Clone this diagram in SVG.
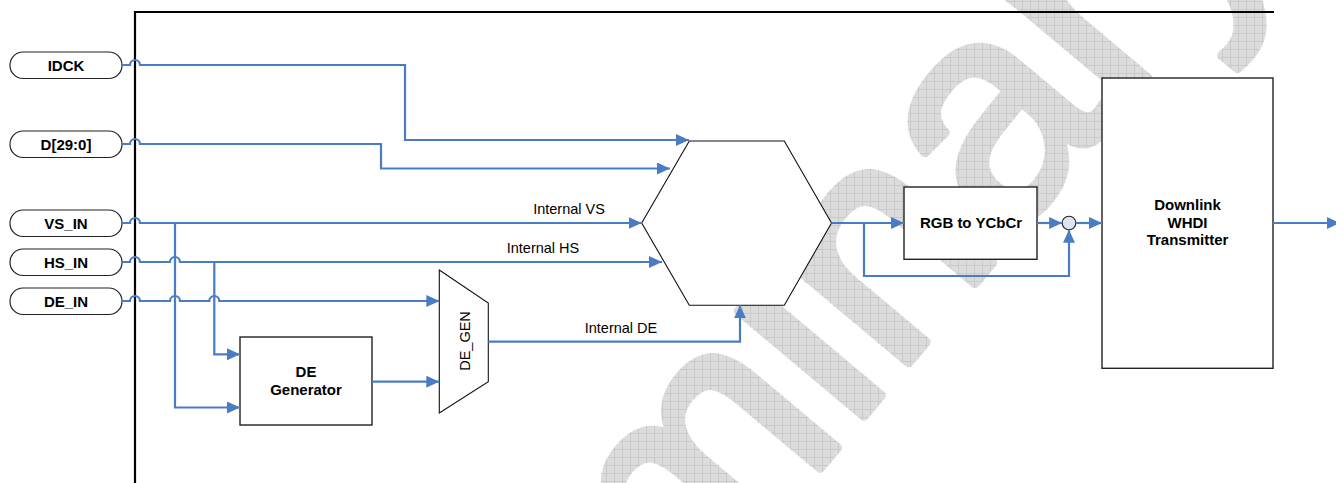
<svg xmlns="http://www.w3.org/2000/svg" width="1336" height="483" viewBox="0 0 1336 483">
<style>
.pill{fill:#fff;stroke:#222;stroke-width:1.2}
.box{fill:#fff;stroke:#222;stroke-width:1.4}
.hex{fill:#fff;stroke:#111;stroke-width:1.1}
.frame{fill:none;stroke:#000;stroke-width:2.2}
.wire{fill:none;stroke:#4a7cc4;stroke-width:2.2}
.arr{marker-end:url(#ah)}
.bl{font-family:"Liberation Sans",Arial,sans-serif;font-weight:bold;font-size:15px;fill:#000;text-anchor:middle}
.lb{font-family:"Liberation Sans",Arial,sans-serif;font-size:14.5px;fill:#000;text-anchor:middle}
.wm{font-family:"Liberation Sans",Arial,sans-serif;font-size:310px;fill:url(#chk);stroke:url(#chk);stroke-width:9;stroke-linejoin:round}
</style>
<defs>
<marker id="ah" markerUnits="userSpaceOnUse" markerWidth="13" markerHeight="12" refX="13" refY="6" orient="auto">
<path d="M0,0 L13,6 L0,12 z" fill="#4a7cc4"/>
</marker>
<pattern id="chk" patternUnits="userSpaceOnUse" width="8" height="8" patternTransform="rotate(50)">
<rect width="8" height="8" fill="#dcdcdc"/>
<path d="M0,0.5 H8 M0.5,0 V8" stroke="#cacaca" stroke-width="1"/>
</pattern>
</defs>

<g id="watermark">
<text class="wm" transform="translate(286,1105) rotate(-50)" x="0" y="0">Preliminary</text>
</g>

<g id="frame">
<path class="frame" d="M135,483 V12 H1274"/>
</g>

<g id="IDCK"><rect class="pill" x="10" y="52" width="112" height="26.5" rx="13"/><text class="bl" x="66" y="70.5">IDCK</text></g>
<g id="D"><rect class="pill" x="10" y="131" width="112" height="26.5" rx="13"/><text class="bl" x="66" y="149.5">D[29:0]</text></g>
<g id="VS_IN"><rect class="pill" x="10" y="210" width="112" height="26.5" rx="13"/><text class="bl" x="66" y="228.5">VS_IN</text></g>
<g id="HS_IN"><rect class="pill" x="10" y="249" width="112" height="26.5" rx="13"/><text class="bl" x="66" y="267.5">HS_IN</text></g>
<g id="DE_IN"><rect class="pill" x="10" y="288" width="112" height="26.5" rx="13"/><text class="bl" x="66" y="306.5">DE_IN</text></g>

<g id="DE_Generator"><rect class="box" x="240" y="337" width="132" height="88"/><text class="bl" x="306" y="377">DE</text><text class="bl" x="306" y="394.5">Generator</text></g>

<g id="DE_GEN"><path class="hex" d="M439.3,270 L488.3,303 L488.3,381.7 L439.3,413 z"/><text class="lb" transform="translate(469.5,341) rotate(-90)" x="0" y="0">DE_GEN</text></g>

<g id="Mux"><path class="hex" d="M689.3,141 H784.3 L831.5,223 L784.3,305.3 H689.3 L641.7,223 z"/></g>

<g id="RGB_to_YCbCr"><rect class="box" x="904" y="187" width="133" height="72.3"/><text class="bl" x="971" y="227.5">RGB to YCbCr</text></g>

<g id="Sum"><circle cx="1069" cy="223" r="6.8" fill="#dde5f1" stroke="#222" stroke-width="1.1"/></g>

<g id="Downlink"><rect class="box" x="1102" y="78" width="171" height="290.3"/><text class="bl" x="1187.5" y="210">Downlink</text><text class="bl" x="1187.5" y="227.5">WHDI</text><text class="bl" x="1187.5" y="245">Transmitter</text></g>

<g id="connectors">
<path class="wire arr" d="M122,65 H130 a5,5 0 0 1 10,0 H405 V140 H689"/>
<path class="wire arr" d="M122,144 H130 a5,5 0 0 1 10,0 H381 V168.5 H670"/>
<path class="wire arr" d="M122,223 H130 a5,5 0 0 1 10,0 H641.7"/>
<path class="wire arr" d="M175,223 V407.5 H240"/>
<path class="wire arr" d="M122,262 H130 a5,5 0 0 1 10,0 H170 a5,5 0 0 1 10,0 H662"/>
<path class="wire arr" d="M214.3,262 V354.3 H240"/>
<path class="wire arr" d="M122,301 H130 a5,5 0 0 1 10,0 H170 a5,5 0 0 1 10,0 H209.3 a5,5 0 0 1 10,0 H439.3"/>
<path class="wire arr" d="M372,381.7 H439.3"/>
<path class="wire arr" d="M488.3,341.7 H740 V305.3"/>
<path class="wire arr" d="M831.5,223 H904"/>
<path class="wire arr" d="M864,223 V276 H1069 V229.8"/>
<path class="wire arr" d="M1037,223 H1062.2"/>
<path class="wire arr" d="M1075.8,223 H1102"/>
<path class="wire arr" d="M1273,223 H1340"/>
<text class="lb" x="569" y="214">Internal VS</text>
<text class="lb" x="543" y="253">Internal HS</text>
<text class="lb" x="621" y="333">Internal DE</text>
</g>
</svg>
